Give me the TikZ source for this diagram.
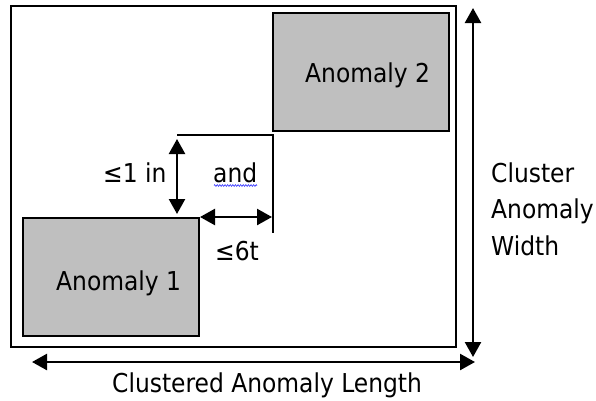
\documentclass[tikz,border=0pt]{standalone}
\usepackage{fontspec}
\setmainfont{DejaVu Sans Condensed}
\usetikzlibrary{arrows.meta,decorations.pathmorphing}
\tikzset{
  box/.style={draw, line width=2.2pt},
  anomaly/.style={draw, line width=2.2pt, fill=gray!50, anchor=north west},
  dim/.style={line width=2.4pt, {Triangle[length=15pt,width=16pt]}-{Triangle[length=15pt,width=16pt]}},
  lbl/.style={font=\fontsize{26}{36}\selectfont, inner sep=0pt, anchor=base west},
}
\begin{document}
\begin{tikzpicture}[x=1pt,y=-1pt]
\useasboundingbox (0,0) rectangle (596,400);
% outer cluster boundary
\draw[box] (11,6) rectangle (456,347);
% the two anomalies
\node[anomaly, minimum width=176pt, minimum height=118pt] (a2) at (272,12) {};
\node[lbl] (t2) at (305,82) {Anomaly 2};
\node[anomaly, minimum width=176pt, minimum height=118pt] (a1) at (22,217) {};
\node[lbl] (t1) at (56,290) {Anomaly 1};
% spacing corner
\coordinate (c1) at (177,135);
\coordinate (c2) at (273,135);
\coordinate (c3) at (273,233);
\draw[line width=1.8pt] (c1) -- (c2) -- (c3);
% spacing dimensions
\coordinate (v1) at (177,139);
\coordinate (v2) at (177,214);
\draw[dim] (v1) -- (v2);
\coordinate (h1) at (200,217);
\coordinate (h2) at (272,217);
\draw[dim] (h1) -- (h2);
\node[lbl] (gap1) at (103,182) {≤1 in};
\node[lbl] (andl) at (213,182) {and};
\draw[blue!80, line width=0.6pt, decorate, decoration={zigzag, amplitude=0.9pt, segment length=2.6pt}] (214,185.5) -- (257,185.5);
\node[lbl] (gap2) at (215,260) {≤6t};
% overall dimensions
\coordinate (w1) at (473,8);
\coordinate (w2) at (473,357);
\draw[dim] (w1) -- (w2);
\coordinate (l1) at (32,362);
\coordinate (l2) at (475,362);
\draw[dim] (l1) -- (l2);
\node[lbl] (wd1) at (491,182) {Cluster};
\node[lbl] (wd2) at (491,218) {Anomaly};
\node[lbl] (wd3) at (491,255) {Width};
\node[lbl] (ln) at (112,392) {Clustered Anomaly Length};
\end{tikzpicture}
\end{document}
